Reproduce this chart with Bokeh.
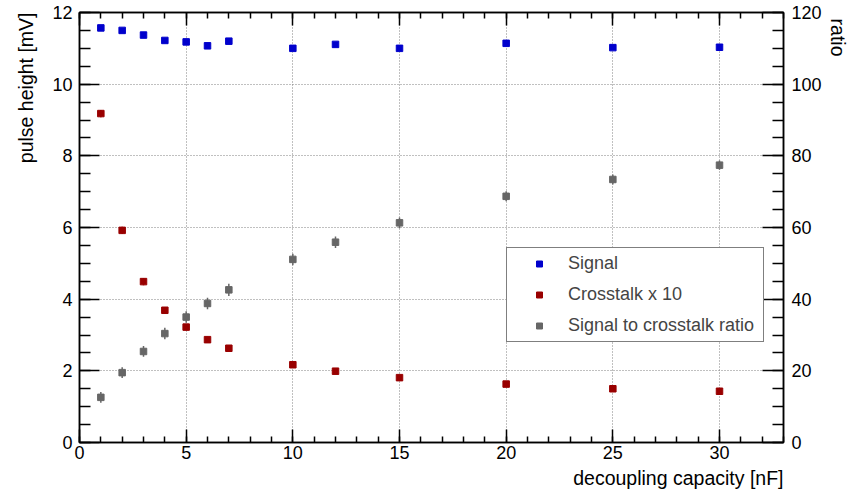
from bokeh.plotting import figure
from bokeh.models import (ColumnDataSource, Range1d, LinearAxis, SingleIntervalTicker,
                          Legend, LegendItem, Title, CustomJSTickFormatter)
from bokeh.embed import file_html
from bokeh.resources import INLINE

# ---- data ----
capacity = [1, 2, 3, 4, 5, 6, 7, 10, 12, 15, 20, 25, 30]           # nF
signal = [11.57, 11.50, 11.37, 11.22, 11.18, 11.07, 11.20, 11.00, 11.11, 11.00, 11.14, 11.02, 11.03]
crosstalk_x10 = [9.18, 5.92, 4.49, 3.69, 3.22, 2.87, 2.63, 2.17, 1.99, 1.81, 1.63, 1.50, 1.43]
crosstalk_x10_err = [0.10, 0.10, 0.10, 0.09, 0.09, 0.08, 0.08, 0.07, 0.07, 0.06, 0.06, 0.06, 0.06]
ratio = [12.6, 19.5, 25.4, 30.4, 35.0, 38.8, 42.6, 51.1, 55.9, 61.3, 68.7, 73.4, 77.4]
ratio_err = [1.5, 1.5, 1.5, 1.6, 1.6, 1.6, 1.7, 1.6, 1.6, 1.5, 1.4, 1.4, 1.3]

series_names = ["Signal", "Crosstalk x 10", "Signal to crosstalk ratio"]
x_title = "decoupling capacity [nF]"
y_title = "pulse height [mV]"
y2_title = "ratio"

FONT = "Liberation Sans"
BLUE = "#0000cc"
RED = "#990000"
GRAY = "#666666"

src_sig = ColumnDataSource(dict(x=capacity, y=signal))
src_ct = ColumnDataSource(dict(
    x=capacity, y=crosstalk_x10,
    lo=[v - e for v, e in zip(crosstalk_x10, crosstalk_x10_err)],
    hi=[v + e for v, e in zip(crosstalk_x10, crosstalk_x10_err)]))
src_ra = ColumnDataSource(dict(
    x=capacity, y=ratio,
    lo=[v - e for v, e in zip(ratio, ratio_err)],
    hi=[v + e for v, e in zip(ratio, ratio_err)]))

p = figure(width=852, height=495, x_range=Range1d(0, 33), y_range=Range1d(0, 12),
           output_backend="svg", toolbar_location=None,
           min_border_left=75, min_border_right=68, min_border_top=12, min_border_bottom=53,
           background_fill_color="white", border_fill_color="white")
p.extra_y_ranges = {"ratio": Range1d(0, 120)}
p.outline_line_color = "black"
p.outline_line_width = 1.5

# tickers
xt = SingleIntervalTicker(interval=5, num_minor_ticks=5)
yt = SingleIntervalTicker(interval=2, num_minor_ticks=4)
y2t = SingleIntervalTicker(interval=20, num_minor_ticks=4)

def style_axis(ax, major_in, minor_in, standoff):
    ax.axis_line_color = "black"
    ax.axis_line_width = 1.5
    ax.major_tick_line_color = "black"
    ax.minor_tick_line_color = "black"
    ax.major_tick_line_width = 1.5
    ax.minor_tick_line_width = 1.5
    ax.major_tick_in = major_in
    ax.major_tick_out = 0
    ax.minor_tick_in = minor_in
    ax.minor_tick_out = 0
    ax.major_label_standoff = standoff
    ax.major_label_text_font = FONT
    ax.major_label_text_font_size = "18px"
    ax.major_label_text_color = "black"

xa = p.xaxis[0]
xa.ticker = xt
style_axis(xa, 13, 6, 3)
ya = p.yaxis[0]
ya.ticker = yt
style_axis(ya, 20, 11, 7)

top = LinearAxis(ticker=SingleIntervalTicker(interval=5, num_minor_ticks=5),
                 formatter=CustomJSTickFormatter(code="return ''"))
style_axis(top, 13, 6, 0)
p.add_layout(top, "above")

right = LinearAxis(y_range_name="ratio", ticker=y2t)
style_axis(right, 21, 11, 8)
p.add_layout(right, "right")

# grid
p.xgrid.ticker = xt
p.ygrid.ticker = yt
for g in (p.xgrid[0], p.ygrid[0]):
    g.grid_line_color = "#808080"
    g.grid_line_dash = "1 2"
    g.grid_line_width = 1

# error bars
p.segment(x0="x", y0="lo", x1="x", y1="hi", source=src_ct, line_color=RED, line_width=1.5)
p.segment(x0="x", y0="lo", x1="x", y1="hi", source=src_ra, line_color=GRAY, line_width=1.5,
          y_range_name="ratio")

# markers
r_sig = p.scatter("x", "y", source=src_sig, marker="square", size=6.5,
                  fill_color=BLUE, line_color=BLUE)
r_ct = p.scatter("x", "y", source=src_ct, marker="square", size=6.5,
                 fill_color=RED, line_color=RED)
r_ra = p.scatter("x", "y", source=src_ra, marker="square", size=6.5,
                 fill_color=GRAY, line_color=GRAY, y_range_name="ratio")

legend = Legend(items=[LegendItem(label=series_names[0], renderers=[r_sig]),
                       LegendItem(label=series_names[1], renderers=[r_ct]),
                       LegendItem(label=series_names[2], renderers=[r_ra])],
                location=(427, 100), orientation="vertical",
                border_line_color="black", border_line_width=1,
                background_fill_color="white", background_fill_alpha=1,
                label_text_font=FONT, label_text_font_size="18px",
                glyph_width=54, glyph_height=15, label_height=21, label_standoff=2,
                label_width=190, spacing=10, padding=5, margin=0)
p.add_layout(legend)

# axis titles (ROOT style: flush with the axis ends)
def title(text, align, standoff, offset=0):
    return Title(text=text, align=align, text_font=FONT, text_font_size="19.5px",
                 text_font_style="normal", text_color="black",
                 standoff=standoff, offset=offset)

p.add_layout(title(x_title, "right", 7), "below")
p.add_layout(title(y_title, "right", 25), "left")
p.add_layout(title(y2_title, "right", 4, offset=386), "right")

open("out.html", "w").write(file_html(p, INLINE))
